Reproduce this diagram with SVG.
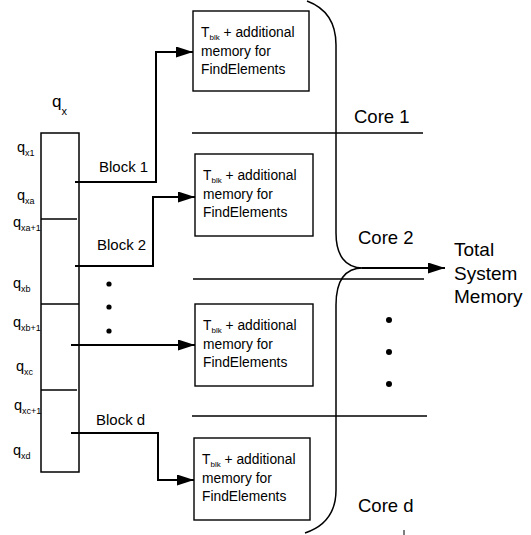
<svg xmlns="http://www.w3.org/2000/svg" width="531" height="535" viewBox="0 0 531 535">
<style>
text{font-family:"Liberation Sans",Arial,sans-serif;fill:#000}
.box{fill:#fff;stroke:#000;stroke-width:1.4}
.ln{stroke:#000;stroke-width:1.5;fill:none}
.conn{stroke:#000;stroke-width:2;fill:none}
.bt{font-size:13.8px}
.sub{font-size:8px}
.blk{font-size:15px}
.core{font-size:18.5px}
.tot{font-size:19px}
.q{font-size:14.5px}
.qs{font-size:9px}
</style>
<defs>
<marker id="ah" markerUnits="userSpaceOnUse" markerWidth="18" markerHeight="12" refX="17" refY="5.5" orient="auto">
<path d="M0,0 L17,5.5 L0,11 z" fill="#000"/>
</marker>
</defs>
<rect width="531" height="535" fill="#fff"/>
<g id="array">
<rect x="41" y="133" width="38" height="339" class="ln" fill="#fff"/>
<line x1="41" y1="219" x2="77" y2="219" class="ln"/>
<line x1="41" y1="304" x2="79" y2="304" class="ln"/>
<line x1="41" y1="390" x2="77" y2="390" class="ln"/>
<text x="52" y="107" style="font-size:17px">q<tspan style="font-size:11px" dy="8">x</tspan></text>
<text x="17" y="152" class="q">q<tspan class="qs" dy="4">x1</tspan></text>
<text x="17" y="200" class="q">q<tspan class="qs" dy="4">xa</tspan></text>
<text x="13" y="227" class="q">q<tspan class="qs" dy="4">xa+1</tspan></text>
<text x="13" y="288" class="q">q<tspan class="qs" dy="4">xb</tspan></text>
<text x="13" y="327" class="q">q<tspan class="qs" dy="4">xb+1</tspan></text>
<text x="16" y="371" class="q">q<tspan class="qs" dy="4">xc</tspan></text>
<text x="14" y="410" class="q">q<tspan class="qs" dy="4">xc+1</tspan></text>
<text x="13" y="455" class="q">q<tspan class="qs" dy="4">xd</tspan></text>
</g>
<g id="box1">
<rect x="193" y="11" width="116" height="80" class="box"/>
<text x="201" y="37" class="bt">T<tspan class="sub" dy="3">blk</tspan><tspan dy="-3"> + additional</tspan></text>
<text x="201" y="56" class="bt">memory for</text>
<text x="201" y="74" class="bt">FindElements</text>
</g>
<g id="box2">
<rect x="195" y="154" width="118" height="82" class="box"/>
<text x="203" y="180" class="bt">T<tspan class="sub" dy="3">blk</tspan><tspan dy="-3"> + additional</tspan></text>
<text x="203" y="199" class="bt">memory for</text>
<text x="203" y="217" class="bt">FindElements</text>
</g>
<g id="box3">
<rect x="195" y="304" width="118" height="82" class="box"/>
<text x="203" y="330" class="bt">T<tspan class="sub" dy="3">blk</tspan><tspan dy="-3"> + additional</tspan></text>
<text x="203" y="349" class="bt">memory for</text>
<text x="203" y="367" class="bt">FindElements</text>
</g>
<g id="box4">
<rect x="194" y="438" width="116" height="82" class="box"/>
<text x="202" y="464" class="bt">T<tspan class="sub" dy="3">blk</tspan><tspan dy="-3"> + additional</tspan></text>
<text x="202" y="483" class="bt">memory for</text>
<text x="202" y="501" class="bt">FindElements</text>
</g>
<g id="cores">
<line x1="192" y1="133" x2="423" y2="133" class="ln"/>
<line x1="193" y1="279" x2="424" y2="279" class="ln"/>
<line x1="192" y1="416" x2="427" y2="416" class="ln"/>
<text x="354" y="123" class="core">Core 1</text>
<text x="358" y="244" class="core">Core 2</text>
<text x="358" y="512" class="core">Core d</text>
<path d="M307 1 C326 8 336 22 336 45 V233 C336 255 345 268 363 268 C345 268 336 281 336 305 V490 C336 512 326 526 305 533" class="ln"/>
<line x1="404" y1="530" x2="404" y2="535" stroke="#000" stroke-width="1"/>
</g>
<g id="total">
<text x="454" y="256" class="tot">Total</text>
<text x="454" y="280" class="tot">System</text>
<text x="454" y="303" class="tot">Memory</text>
</g>
<g id="dots">
<circle cx="109" cy="284" r="2.6"/>
<circle cx="109" cy="307" r="2.6"/>
<circle cx="109" cy="331" r="2.6"/>
<circle cx="389" cy="320" r="3"/>
<circle cx="389" cy="352" r="3"/>
<circle cx="389" cy="384" r="3"/>
</g>
<g id="connectors">
<path d="M75 182 H156 V52 H193" class="conn" marker-end="url(#ah)"/>
<path d="M75 266 H153 V197 H195" class="conn" marker-end="url(#ah)"/>
<path d="M71 345 H195" class="conn" marker-end="url(#ah)"/>
<path d="M71 433 H158 V480 H194" class="conn" marker-end="url(#ah)"/>
<path d="M362 268 H445" class="conn" marker-end="url(#ah)"/>
</g>
<g id="labels">
<text x="99" y="172" class="blk">Block 1</text>
<text x="97" y="250" class="blk">Block 2</text>
<text x="96" y="425" class="blk">Block d</text>
</g>
</svg>
